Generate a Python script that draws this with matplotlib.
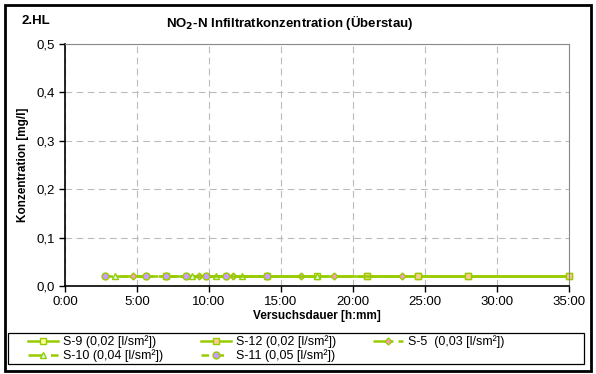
import matplotlib
matplotlib.use("Agg")
import matplotlib.pyplot as plt
from matplotlib.patches import Rectangle
from matplotlib.ticker import FuncFormatter, MultipleLocator

plt.rcParams["font.family"] = ["Liberation Sans", "DejaVu Sans"]

LINE = "#99CC00"

# series: time [h], concentration [mg/l]
S9_T = [7.0, 14.0, 17.5, 21.0, 24.5, 28.0, 35.0]
S9_Y = [0.02, 0.02, 0.02, 0.02, 0.02, 0.02, 0.02]
S12_T = [21.0, 24.5, 28.0, 35.0]
S12_Y = [0.02, 0.02, 0.02, 0.02]
S5_T = [4.7, 9.3, 11.7, 16.4, 18.7, 23.4]
S5_Y = [0.02, 0.02, 0.02, 0.02, 0.02, 0.02]
S10_T = [3.5, 8.8, 10.5, 12.3, 17.5]
S10_Y = [0.02, 0.02, 0.02, 0.02, 0.02]
S11_T = [2.8, 5.6, 7.0, 8.4, 9.8, 11.2, 14.0]
S11_Y = [0.02, 0.02, 0.02, 0.02, 0.02, 0.02, 0.02]

SERIES = [
    ("S-9 (0,02 [l/sm²])", S9_T, S9_Y, "s", "#FFFF99", "-", 5),
    ("S-12 (0,02 [l/sm²])", S12_T, S12_Y, "s", "#FFCC99", "-", 5),
    ("S-5  (0,03 [l/sm²])", S5_T, S5_Y, "D", "#FF99CC", (0, (8, 2)), 3.5),
    ("S-10 (0,04 [l/sm²])", S10_T, S10_Y, "^", "#CCFFFF", (0, (6, 3)), 5),
    ("S-11 (0,05 [l/sm²])", S11_T, S11_Y, "o", "#CC99FF", (0, (3, 3)), 5),
]

W, H = 596, 374
fig = plt.figure(figsize=(W / 100, H / 100), dpi=100)
ax = fig.add_axes([65 / W, 1 - 286 / H, 504 / W, 242 / H])

handles = []
for label, t, y, mk, fc, ls, ms in SERIES:
    h, = ax.plot(t, y, color=LINE, lw=1.8, ls=ls, marker=mk, markersize=ms,
                 markerfacecolor=fc, markeredgecolor=LINE, markeredgewidth=1.0,
                 label=label, clip_on=False)
    handles.append(h)

ax.set_xlim(0, 35)
ax.set_ylim(0, 0.5)
ax.xaxis.set_major_locator(MultipleLocator(5))
ax.yaxis.set_major_locator(MultipleLocator(0.1))
ax.xaxis.set_major_formatter(FuncFormatter(lambda v, p: f"{int(v)}:{int(round((v % 1) * 60)):02d}"))
ax.yaxis.set_major_formatter(FuncFormatter(lambda v, p: f"{v:.1f}".replace(".", ",")))
ax.grid(True, color="#BBBBBB", ls=(0, (6, 4)), lw=0.8)
ax.tick_params(direction="out", length=4, width=1, labelsize=9.5, colors="black")
for s in ("top", "right"):
    ax.spines[s].set_color("#888888")
for s in ("left", "bottom"):
    ax.spines[s].set_linewidth(1.2)

ax.set_xlabel("Versuchsdauer [h:mm]", fontsize=8.5, fontweight="bold", labelpad=1)
ax.set_ylabel("Konzentration [mg/l]", fontsize=8.5, fontweight="bold", labelpad=5)

fig.text(290 / W, 1 - 22 / H, "NO$_\\mathbf{2}$-N Infiltratkonzentration (Überstau)",
         ha="center", va="center", fontsize=9.5, fontweight="bold")
fig.text(22 / W, 1 - 21 / H, "2.HL", ha="left", va="center", fontsize=9.5, fontweight="bold")

# outer frame and legend box
fig.patches.append(Rectangle((5 / W, 3 / H), 586 / W, 366 / H, transform=fig.transFigure,
                             fill=False, edgecolor="black", lw=2))
fig.patches.append(Rectangle((8 / W, 1 - 364 / H), 576 / W, 31 / H, transform=fig.transFigure,
                             fill=False, edgecolor="black", lw=0.9))

# legend fills rows first, matplotlib fills columns first -> reorder
order = [0, 3, 1, 4, 2]
leg = fig.legend([handles[i] for i in order], [SERIES[i][0] for i in order],
                 loc="center left", bbox_to_anchor=(27 / W, 1 - 364 / H, 479 / W, 31 / H),
                 mode="expand", ncol=3, fontsize=9, frameon=False,
                 handlelength=2.4, handletextpad=0.4,
                 borderpad=0.1, labelspacing=0.1, borderaxespad=0)

fig.savefig("out.png", dpi=100)
